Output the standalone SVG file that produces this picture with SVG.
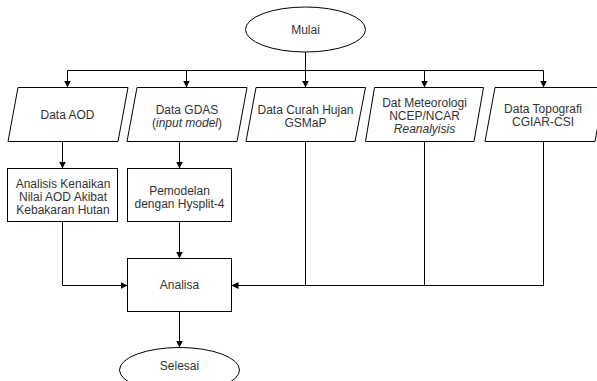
<svg xmlns="http://www.w3.org/2000/svg" width="597" height="381" viewBox="0 0 597 381">
<defs>
<marker id="arr" viewBox="0 0 10 10" refX="10" refY="5" markerWidth="7" markerHeight="7" markerUnits="userSpaceOnUse" orient="auto">
<path d="M0,0 L10,5 L0,10 z" fill="#000"/>
</marker>
<style>
.shape{fill:#fff;stroke:#000;stroke-width:1}
.t{font-family:"Liberation Sans",Arial,Helvetica,sans-serif;font-size:12px;fill:#333;text-anchor:middle}
.i{font-style:italic}
.c{fill:none;stroke:#000;stroke-width:1}
.ca{fill:none;stroke:#000;stroke-width:1;marker-end:url(#arr)}
</style>
</defs>
<rect width="597" height="381" fill="#fff"/>
<g id="connectors">
<path class="ca" d="M305.5,52 L305.5,87.5"/>
<path class="c" d="M67.5,70.5 L543.5,70.5"/>
<path class="ca" d="M67.5,70.5 L67.5,87.5"/>
<path class="ca" d="M186.5,70.5 L186.5,87.5"/>
<path class="ca" d="M424.5,70.5 L424.5,87.5"/>
<path class="ca" d="M543.5,70.5 L543.5,87.5"/>
<path class="ca" d="M62.5,141.5 L62.5,168.5"/>
<path class="ca" d="M179.5,141.5 L179.5,168.5"/>
<path class="ca" d="M179.5,221.5 L179.5,258.5"/>
<path class="ca" d="M62.5,221.5 L62.5,285.5 L127.5,285.5"/>
<path class="c" d="M305.5,141.5 L305.5,285.5"/>
<path class="c" d="M424.5,141.5 L424.5,285.5"/>
<path class="ca" d="M543.5,141.5 L543.5,285.5 L231.5,285.5"/>
<path class="ca" d="M179.5,311.5 L179.5,347.5"/>
</g>
<g id="mulai">
<ellipse class="shape" cx="305.5" cy="29.5" rx="60" ry="22.5"/>
<text class="t" x="305.5" y="34">Mulai</text>
</g>
<g id="data-aod">
<polygon class="shape" points="18,87.5 128,87.5 118,141.5 8,141.5"/>
<text class="t" x="67.5" y="119">Data AOD</text>
</g>
<g id="data-gdas">
<polygon class="shape" points="137,87.5 247,87.5 237,141.5 127,141.5"/>
<text class="t" x="187" y="113.5">Data GDAS</text>
<text class="t" x="187" y="126.5">(<tspan class="i">input model</tspan>)</text>
</g>
<g id="data-curah-hujan">
<polygon class="shape" points="256,87.5 365.5,87.5 355,141.5 246,141.5"/>
<text class="t" x="305.5" y="113.5">Data Curah Hujan</text>
<text class="t" x="305.5" y="126.5">GSMaP</text>
</g>
<g id="data-meteorologi">
<polygon class="shape" points="374.5,87.5 483.5,87.5 474,141.5 365.5,141.5"/>
<text class="t" x="424.5" y="106.5">Dat Meteorologi</text>
<text class="t" x="424.5" y="119.5">NCEP/NCAR</text>
<text class="t i" x="424.5" y="132.5">Reanalyisis</text>
</g>
<g id="data-topografi">
<polygon class="shape" points="495,87.5 605,87.5 595,141.5 485,141.5"/>
<text class="t" x="543" y="112.5">Data Topografi</text>
<text class="t" x="543" y="125.5">CGIAR-CSI</text>
</g>
<g id="analisis-aod">
<rect class="shape" x="7.5" y="168.5" width="110" height="53"/>
<text class="t" x="63" y="188">Analisis Kenaikan</text>
<text class="t" x="63" y="201">Nilai AOD Akibat</text>
<text class="t" x="63" y="214">Kebakaran Hutan</text>
</g>
<g id="pemodelan">
<rect class="shape" x="127.5" y="168.5" width="104" height="53"/>
<text class="t" x="179.5" y="194.5">Pemodelan</text>
<text class="t" x="179.5" y="207.5">dengan Hysplit-4</text>
</g>
<g id="analisa">
<rect class="shape" x="127.5" y="258.5" width="104" height="53"/>
<text class="t" x="179.5" y="289">Analisa</text>
</g>
<g id="selesai">
<ellipse class="shape" cx="179.5" cy="370" rx="60" ry="22.5"/>
<text class="t" x="179.5" y="370">Selesai</text>
</g>
</svg>
